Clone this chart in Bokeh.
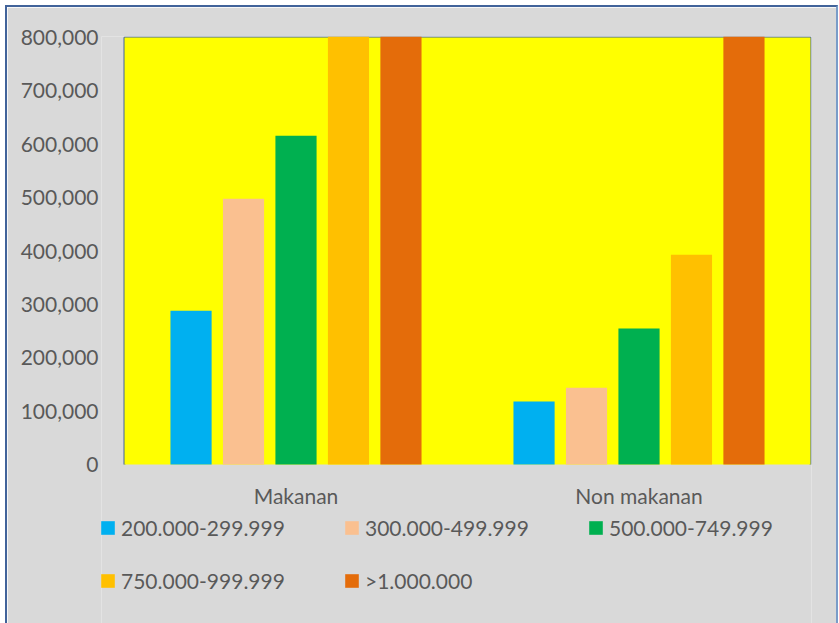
from bokeh.plotting import figure
from bokeh.models import (ColumnDataSource, Range1d, Legend, LegendItem,
                          NumeralTickFormatter, FixedTicker, BoxAnnotation)
from bokeh.core.properties import value
from bokeh.embed import file_html
from bokeh.resources import INLINE

categories = ["Makanan", "Non makanan"]
series = ["200.000-299.999", "300.000-499.999", "500.000-749.999", "750.000-999.999", ">1.000.000"]
colors = ["#00B0F0", "#FAC090", "#00B050", "#FFC000", "#E46C0A"]
v_200_300 = [288000, 118000]
v_300_500 = [498000, 144000]
v_500_750 = [616000, 255000]
v_750_1000 = [850000, 393000]
v_gt_1000 = [1050000, 950000]
y_ticks = [0, 100000, 200000, 300000, 400000, 500000, 600000, 700000, 800000]

values = [v_200_300, v_300_500, v_500_750, v_750_1000, v_gt_1000]

FONT = "Lato"
TXT = "#595959"
BORDER = "#41639A"
YELLOW = "#FFFF00"
GREY = "#D9D9D9"

# layout constants (pixels)
PX_PER_CAT = 343
PLOT_H = 427
LEFT_PAD = 23      # legend starts left of the plot area
BELOW = 159        # grey area below the plot area kept inside the frame
ymax = y_ticks[-1]
n = len(categories)
upp = ymax / PLOT_H  # data units per pixel

p = figure(x_range=Range1d(-LEFT_PAD / PX_PER_CAT, n + 1 / PX_PER_CAT),
           y_range=Range1d(-BELOW * upp, ymax + 1 * upp),
           frame_width=PX_PER_CAT * n + LEFT_PAD + 1, frame_height=PLOT_H + BELOW + 1,
           min_border_left=94, min_border_top=29, min_border_right=25, min_border_bottom=0,
           x_axis_location=None,
           output_backend="svg", toolbar_location=None,
           background_fill_color=GREY, border_fill_color=GREY,
           outline_line_color=None)
p.styles = {"margin-left": "5px", "margin-top": "5px",
            "border-left": f"2px solid {BORDER}", "border-top": f"2px solid {BORDER}",
            "border-right": "2px solid #7A9CC8"}

# plot area (yellow) and its border
p.add_layout(BoxAnnotation(left=0, right=n, bottom=0, top=ymax, fill_color=YELLOW,
                           fill_alpha=1, line_color=None, level="underlay"))
p.line(x=[0, 0, n, n], y=[0, ymax, ymax, 0], line_color=BORDER, line_width=2,
       level="underlay")

step = 0.153
width = 0.12
renderers = []
for k, name in enumerate(series):
    xs = [i + 0.5 + (k - 2) * step for i in range(n)]
    src = ColumnDataSource(dict(x=xs, top=values[k]))
    r = p.vbar(x="x", top="top", width=width, source=src, fill_color=colors[k], line_color=None)
    renderers.append(r)

# category labels
p.text(x=[i + 0.5 for i in range(n)], y=[-31 * upp] * n, text=categories,
       text_font=value(FONT), text_font_size="21px", text_color=TXT,
       text_align="center", text_baseline="middle")

p.xgrid.grid_line_color = None
p.ygrid.grid_line_color = None

p.yaxis.ticker = FixedTicker(ticks=y_ticks)
p.yaxis.formatter = NumeralTickFormatter(format="0,0")
p.yaxis.major_tick_line_color = None
p.yaxis.minor_tick_line_color = None
p.yaxis.axis_line_color = None
p.yaxis.major_label_standoff = -3
p.yaxis.major_label_text_font = FONT
p.yaxis.major_label_text_font_size = "21px"
p.yaxis.major_label_text_color = TXT

legend = Legend(items=[LegendItem(label=series[i], renderers=[renderers[i]]) for i in range(5)],
                orientation="horizontal", ncols=3, location=(-2, 23),
                glyph_width=17, glyph_height=17, label_standoff=5, label_width=209,
                label_height=40, spacing=13, padding=0, margin=0,
                label_text_font=FONT, label_text_font_size="21px", label_text_color=TXT,
                background_fill_alpha=0, border_line_alpha=0)
p.add_layout(legend, "center")

open("out.html", "w").write(file_html(p, INLINE))
